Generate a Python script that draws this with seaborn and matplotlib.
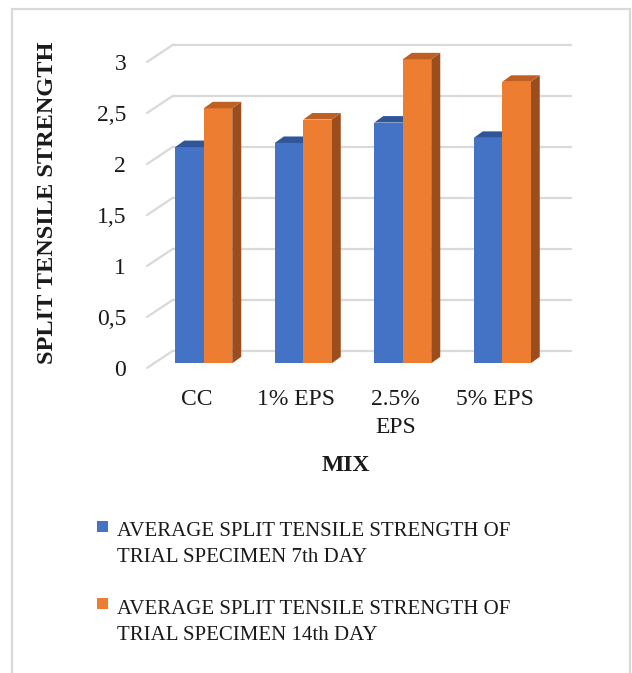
import numpy as np
import pandas as pd
import seaborn as sns
import matplotlib.pyplot as plt
from matplotlib import transforms
from matplotlib.patches import Polygon, Rectangle
from matplotlib.lines import Line2D

# ---- data ----
mixes = ["CC", "1% EPS", "2.5%\nEPS", "5% EPS"]
day7 = [2.12, 2.16, 2.36, 2.21]
day14 = [2.50, 2.39, 2.98, 2.76]
series = [
    "AVERAGE SPLIT TENSILE STRENGTH OF\nTRIAL SPECIMEN 7th DAY",
    "AVERAGE SPLIT TENSILE STRENGTH OF\nTRIAL SPECIMEN 14th DAY",
]
yticks = [0, 0.5, 1, 1.5, 2, 2.5, 3]
ytick_labels = ["0", "0,5", "1", "1,5", "2", "2,5", "3"]

# ---- styling ----
front_colors = ["#4472C4", "#ED7D31"]
top_colors = ["#30569A", "#BE6024"]
side_colors = ["#2A4A82", "#9B4D1D"]
grid_color = "#D9D9D9"
text_color = "#1a1a1a"

sns.set_theme(style="white")
plt.rcParams["font.family"] = ["Liberation Serif", "DejaVu Serif"]

W, H = 632, 673
fig = plt.figure(figsize=(W / 100, H / 100), dpi=100)


def px_rect(left, top, right, bottom):
    return [left / W, 1 - bottom / H, (right - left) / W, (bottom - top) / H]


ax = fig.add_axes(px_rect(147, 62, 545, 368))

df = pd.DataFrame({
    "mix": mixes * 2,
    "value": day7 + day14,
    "series": [series[0]] * len(mixes) + [series[1]] * len(mixes),
})
sns.barplot(data=df, x="mix", y="value", hue="series", order=mixes,
            hue_order=series, palette=front_colors, width=0.573, gap=0,
            saturation=1, legend=False, ax=ax, zorder=3)

ax.set_xlim(-0.5, len(mixes) - 0.5)
ax.set_ylim(0, 3)
for s in ax.spines.values():
    s.set_visible(False)
ax.grid(False)

# pseudo-3D geometry (pixels): back wall, bar front plane, bar depth
back = (26, 17.3)
bar_off = (7, 4.7)
depth = (9, 6.5)

fig.canvas.draw()
ident = transforms.IdentityTransform()

# back-wall gridlines and the diagonal side ticks
for v in yticks:
    x0, y0 = ax.transData.transform((-0.5, v))
    x1, _ = ax.transData.transform((len(mixes) - 0.5, v))
    ax.add_line(Line2D([x0 + back[0], x1 + back[0]], [y0 + back[1], y0 + back[1]],
                       transform=ident, color=grid_color, lw=1.6, zorder=0.5,
                       clip_on=False))
    ax.add_line(Line2D([x0, x0 + back[0]], [y0, y0 + back[1]],
                       transform=ident, color=grid_color, lw=1.6, zorder=0.5,
                       clip_on=False))

# shift bar fronts and add top / side faces
bar_tr = transforms.offset_copy(ax.transData, fig=fig, x=bar_off[0], y=bar_off[1], units="dots")
bars = [p for p in ax.patches if isinstance(p, Rectangle)]
n = len(mixes)
for i, p in enumerate(bars):
    k = 0 if i < n else 1
    p.set_transform(bar_tr)
    p.set_edgecolor("none")
    p.set_zorder(3 + k)
    p.set_clip_on(False)
    x, w, h = p.get_x(), p.get_width(), p.get_height()
    (lx, by), (rx, ty) = ax.transData.transform([(x, 0), (x + w, h)])
    lx += bar_off[0]; rx += bar_off[0]; by += bar_off[1]; ty += bar_off[1]
    dx, dy = depth
    top = Polygon([(lx, ty), (rx, ty), (rx + dx, ty + dy), (lx + dx, ty + dy)],
                  closed=True, transform=ident, facecolor=top_colors[k],
                  edgecolor="none", zorder=3 + k, clip_on=False)
    side = Polygon([(rx, by), (rx, ty), (rx + dx, ty + dy), (rx + dx, by + dy)],
                   closed=True, transform=ident, facecolor=side_colors[k],
                   edgecolor="none", zorder=2.9 + k, clip_on=False)
    ax.add_patch(side)
    ax.add_patch(top)

# axes text
ax.set_yticks(yticks, ytick_labels)
ax.tick_params(axis="y", length=0, pad=15, labelsize=17, labelcolor=text_color)
ax.tick_params(axis="x", length=0, pad=15, labelsize=17, labelcolor=text_color)
for t in ax.get_xticklabels():
    t.set_linespacing(1.45)
ax.set_xlabel("MIX", fontsize=17, fontweight="bold", color=text_color)
ax.xaxis.set_label_coords(0.5, -(455 - 368) / 306)
ax.set_ylabel("SPLIT TENSILE STRENGTH", fontsize=17.5, fontweight="bold", color=text_color)
ax.yaxis.set_label_coords((58 - 147) / 398, (368 - 203) / 306)

# legend: square marker beside the first line of each two-line label
legend_rows = [(521, 562), (598, 640)]
for k, (mtop, last_base) in enumerate(legend_rows):
    fig.add_artist(Rectangle((97, H - mtop - 11), 11, 11, transform=ident,
                             facecolor=front_colors[k], edgecolor="none"))
    fig.text(117 / W, 1 - last_base / H, series[k], fontsize=15, va="baseline",
             ha="left", linespacing=1.49, color=text_color)

# outer frame
fig.add_artist(Rectangle((12, -5), 630 - 12, H - 9 + 5, transform=ident,
                         facecolor="none", edgecolor=grid_color, lw=1.6))

fig.savefig("out.png", dpi=100)
